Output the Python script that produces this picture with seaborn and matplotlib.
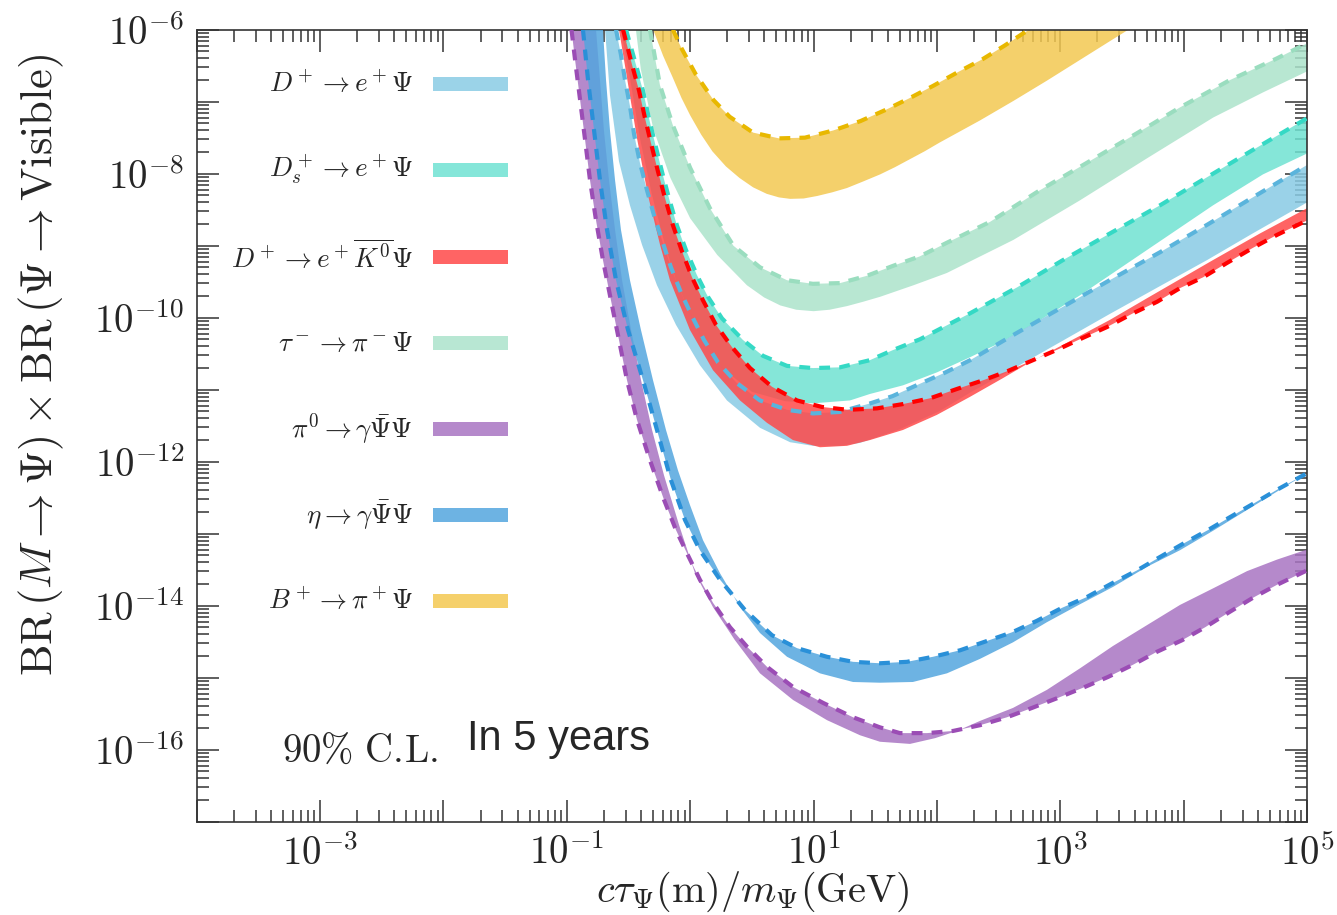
import numpy as np
import matplotlib as mpl
mpl.use('Agg')

import matplotlib.pyplot as plt
from matplotlib.patches import Rectangle
from matplotlib.ticker import LogLocator, FuncFormatter, NullFormatter
import seaborn as sns

# all curve values are log10 numbers
# each band: "dash" = dashed boundary, "edge" = the other boundary

# B+ -> pi+ Psi (yellow)
yel_dash_x = [-0.14, -0.07, 0.045, 0.19, 0.32, 0.51, 0.72, 0.93, 1.16, 1.38, 1.59, 1.78, 1.97, 2.17, 2.37, 2.55, 2.70, 2.75]
yel_dash_y = [-6.0, -6.26, -6.62, -6.98, -7.21, -7.43, -7.51, -7.50, -7.40, -7.27, -7.11, -6.95, -6.78, -6.59, -6.41, -6.22, -6.05, -6.0]
yel_edge_x = [-0.30, -0.22, -0.14, -0.07, 0.0, 0.09, 0.18, 0.29, 0.40, 0.51, 0.62, 0.72, 0.81, 0.92, 1.03, 1.15, 1.27, 1.40, 1.54, 1.66, 1.78, 1.90, 2.02, 2.35, 2.62, 2.89, 3.16, 3.43, 3.59]
yel_edge_y = [-6.0, -6.36, -6.67, -6.95, -7.19, -7.46, -7.69, -7.90, -8.06, -8.19, -8.28, -8.33, -8.35, -8.345, -8.31, -8.26, -8.20, -8.11, -8.01, -7.91, -7.80, -7.69, -7.57, -7.26, -6.99, -6.71, -6.42, -6.13, -5.96]

# tau- -> pi- Psi (pale green)
tau_dash_x = [-0.326, -0.245, -0.14, 0.0, 0.16, 0.35, 0.565, 0.785, 0.995, 1.215, 1.43, 1.645, 1.86, 2.08, 2.43, 2.835, 3.215, 3.62, 3.97, 4.375, 4.755, 5.0]
tau_dash_y = [-6.0, -6.77, -7.33, -7.92, -8.48, -9.0, -9.30, -9.48, -9.53, -9.52, -9.42, -9.28, -9.15, -8.96, -8.67, -8.23, -7.85, -7.44, -7.08, -6.70, -6.40, -6.19]
tau_edge_x = [-0.44, -0.40, -0.30, -0.16, 0.0, 0.22, 0.46, 0.60, 0.73, 0.86, 1.0, 1.13, 1.27, 1.40, 1.54, 1.81, 2.08, 2.62, 3.16, 3.70, 4.24, 4.645, 5.0]
tau_edge_y = [-6.0, -6.55, -7.37, -8.06, -8.62, -9.13, -9.55, -9.72, -9.83, -9.89, -9.91, -9.89, -9.84, -9.78, -9.71, -9.55, -9.38, -8.92, -8.37, -7.79, -7.22, -6.87, -6.58]

# Ds+ -> e+ Psi (turquoise)
ds_dash_x = [-0.52, -0.439, -0.382, -0.334, -0.285, -0.229, -0.172, -0.107, -0.034, 0.055, 0.144, 0.258, 0.428, 0.59, 0.785, 0.995, 1.214, 1.457, 1.644, 1.863, 2.268, 2.649, 3.022, 3.403, 3.808, 4.189, 4.562, 5.0]
ds_dash_y = [-6.0, -6.49, -6.85, -7.23, -7.58, -7.97, -8.34, -8.72, -9.06, -9.41, -9.71, -10.01, -10.31, -10.53, -10.67, -10.70, -10.69, -10.59, -10.45, -10.30, -9.94, -9.58, -9.20, -8.83, -8.44, -8.05, -7.67, -7.23]
ds_edge_x = [-0.561, -0.488, -0.407, -0.309, -0.204, -0.115, 0.055, 0.258, 0.501, 0.769, 0.995, 1.295, 1.457, 1.725, 2.0, 2.268, 2.535, 2.811, 3.16, 3.703, 4.238, 4.643, 5.0]
ds_edge_y = [-6.0, -6.67, -7.51, -8.30, -8.99, -9.48, -10.17, -10.70, -11.03, -11.16, -11.19, -11.15, -11.06, -10.94, -10.76, -10.55, -10.33, -10.06, -9.69, -9.06, -8.44, -8.01, -7.72]

# D+ -> e+ Psi (light blue)
dpe_dash_x = [-0.601, -0.561, -0.528, -0.488, -0.455, -0.407, -0.35, -0.293, -0.229, -0.156, -0.075, 0.015, 0.112, 0.225, 0.379, 0.566, 0.785, 0.995, 1.21, 1.46, 1.64, 1.86, 2.07, 2.27, 2.65, 3.02, 3.40, 3.81, 4.19, 4.56, 5.0]
dpe_dash_y = [-6.0, -6.35, -6.70, -7.06, -7.45, -7.85, -8.23, -8.58, -8.92, -9.30, -9.65, -9.98, -10.31, -10.62, -10.91, -11.15, -11.28, -11.33, -11.31, -11.19, -11.09, -10.92, -10.76, -10.59, -10.21, -9.85, -9.48, -9.09, -8.71, -8.33, -7.88]
dpe_edge_x = [-0.69, -0.65, -0.577, -0.488, -0.39, -0.269, -0.115, 0.079, 0.298, 0.566, 0.81, 0.995, 1.214, 1.376, 1.70, 2.02, 2.27, 2.65, 3.02, 3.40, 3.81, 4.19, 4.56, 5.0]
dpe_edge_y = [-6.0, -6.91, -7.83, -8.44, -8.99, -9.55, -10.10, -10.66, -11.15, -11.53, -11.73, -11.78, -11.78, -11.74, -11.55, -11.30, -11.04, -10.68, -10.32, -9.95, -9.56, -9.20, -8.83, -8.40]

# D+ -> e+ K0bar Psi (red)
dpk_dash_x = [-0.544, -0.471, -0.414, -0.366, -0.317, -0.261, -0.204, -0.139, -0.066, 0.015, 0.104, 0.209, 0.339, 0.485, 0.663, 0.866, 1.068, 1.279, 1.514, 1.725, 1.944, 2.163, 2.374, 2.576, 2.779, 2.982, 3.184, 3.379, 3.589, 3.784, 3.97, 4.157, 4.351, 4.562, 4.757, 5.0]
dpk_dash_y = [-6.0, -6.49, -6.85, -7.23, -7.58, -7.97, -8.34, -8.72, -9.08, -9.44, -9.76, -10.10, -10.41, -10.70, -10.96, -11.15, -11.24, -11.28, -11.26, -11.20, -11.12, -10.99, -10.87, -10.74, -10.59, -10.44, -10.28, -10.13, -9.94, -9.78, -9.59, -9.44, -9.24, -9.03, -8.85, -8.65]
dpk_edge_x = [-0.577, -0.512, -0.431, -0.342, -0.244, -0.164, -0.002, 0.185, 0.404, 0.622, 0.833, 1.052, 1.271, 1.457, 1.725, 2.0, 2.268, 2.535, 2.754, 2.941, 3.184, 3.403, 3.703, 4.238, 4.619, 5.0]
dpk_edge_y = [-6.0, -6.67, -7.51, -8.30, -8.99, -9.48, -10.17, -10.73, -11.15, -11.46, -11.70, -11.80, -11.78, -11.70, -11.56, -11.35, -11.10, -10.84, -10.62, -10.45, -10.23, -10.03, -9.73, -9.20, -8.83, -8.48]

# pi0 -> gamma Psibar Psi (purple)
pi0_dash_x = [-0.962, -0.933, -0.892, -0.852, -0.812, -0.763, -0.707, -0.642, -0.577, -0.512, -0.431, -0.326, -0.212, -0.115, -0.018, 0.079, 0.185, 0.323, 0.461, 0.623, 0.834, 1.077, 1.32, 1.538, 1.70, 1.92, 2.131, 2.35, 2.568, 2.771, 2.982, 3.184, 3.387, 3.59, 3.784, 3.987, 4.174, 4.36, 4.562, 4.757, 5.0]
pi0_dash_y = [-6.0, -6.42, -6.98, -7.53, -8.09, -8.65, -9.20, -9.76, -10.31, -10.87, -11.42, -11.98, -12.53, -12.95, -13.30, -13.64, -13.96, -14.30, -14.57, -14.85, -15.13, -15.35, -15.55, -15.69, -15.77, -15.77, -15.74, -15.66, -15.55, -15.42, -15.28, -15.14, -14.99, -14.82, -14.64, -14.48, -14.30, -14.10, -13.89, -13.71, -13.51]
pi0_edge_x = [-0.763, -0.731, -0.699, -0.658, -0.609, -0.552, -0.479, -0.398, -0.309, -0.212, -0.09, 0.039, 0.185, 0.363, 0.566, 0.834, 1.109, 1.377, 1.538, 1.782, 1.985, 2.163, 2.35, 2.617, 2.891, 3.16, 3.427, 3.703, 3.97, 4.238, 4.514, 4.757, 5.0]
pi0_edge_y = [-6.0, -6.70, -7.40, -8.09, -8.78, -9.48, -10.17, -10.87, -11.56, -12.19, -12.88, -13.55, -14.02, -14.48, -14.94, -15.31, -15.59, -15.80, -15.89, -15.92, -15.84, -15.74, -15.60, -15.42, -15.17, -14.87, -14.56, -14.27, -13.99, -13.76, -13.52, -13.36, -13.22]

# eta -> gamma Psibar Psi (blue)
eta_dash_x = [-0.869, -0.828, -0.779, -0.731, -0.674, -0.601, -0.504, -0.382, -0.269, -0.155, -0.042, 0.079, 0.242, 0.444, 0.663, 0.866, 1.109, 1.32, 1.538, 1.757, 1.968, 2.187, 2.406, 2.609, 2.811, 3.014, 3.216, 3.419, 3.622, 3.792, 3.995, 4.197, 4.376, 4.578, 4.757, 5.0]
eta_dash_y = [-6.0, -6.70, -7.40, -8.09, -8.78, -9.48, -10.17, -10.87, -11.56, -12.26, -12.81, -13.23, -13.64, -14.06, -14.41, -14.59, -14.71, -14.78, -14.80, -14.78, -14.71, -14.62, -14.49, -14.37, -14.21, -14.03, -13.88, -13.69, -13.51, -13.34, -13.14, -12.95, -12.77, -12.57, -12.39, -12.16]
eta_edge_x = [-0.707, -0.682, -0.65, -0.609, -0.561, -0.488, -0.399, -0.301, -0.196, -0.099, -0.002, 0.104, 0.242, 0.404, 0.566, 0.785, 1.052, 1.32, 1.538, 1.805, 2.081, 2.348, 2.616, 2.891, 3.16, 3.427, 3.703, 3.97, 4.238, 4.514, 5.0]
eta_edge_y = [-6.0, -6.70, -7.40, -8.09, -8.78, -9.48, -10.17, -10.87, -11.56, -12.12, -12.60, -13.09, -13.55, -14.02, -14.38, -14.71, -14.94, -15.06, -15.07, -15.06, -14.94, -14.74, -14.51, -14.23, -13.98, -13.74, -13.46, -13.23, -12.96, -12.67, -12.16]

labels = [r'$D^+\rightarrow e^+\Psi$', r'$D_s^+\rightarrow e^+\Psi$',
          r'$D^+\rightarrow e^+\overline{K^0}\Psi$', r'$\tau^-\rightarrow\pi^-\Psi$',
          r'$\pi^0\rightarrow\gamma\bar{\Psi}\Psi$', r'$\eta\rightarrow\gamma\bar{\Psi}\Psi$',
          r'$B^+\rightarrow\pi^+\Psi$']
swatch_colors = ['#9BD3E8', '#85E6D9', '#FF6464', '#B8E7D3', '#B589CB', '#6DB3E3', '#F5D06B']
fill_colors = ['#89CBE4', '#70E2D2', '#FF4949', '#ACE3CB', '#A874C2', '#53A6DE', '#F3C851']
dash_colors = ['#5AB4DC', '#35D9C5', '#FF0000', '#9ADDBF', '#9B4DB5', '#2A90D8', '#E8B800']

bands = [
    (dpe_dash_x, dpe_dash_y, dpe_edge_x, dpe_edge_y),
    (ds_dash_x, ds_dash_y, ds_edge_x, ds_edge_y),
    (dpk_dash_x, dpk_dash_y, dpk_edge_x, dpk_edge_y),
    (tau_dash_x, tau_dash_y, tau_edge_x, tau_edge_y),
    (pi0_dash_x, pi0_dash_y, pi0_edge_x, pi0_edge_y),
    (eta_dash_x, eta_dash_y, eta_edge_x, eta_edge_y),
    (yel_dash_x, yel_dash_y, yel_edge_x, yel_edge_y),
]
# drawing order of the fills (index into bands)
fill_order = [6, 3, 1, 0, 2, 4, 5]

sns.set_style('ticks')
plt.rcParams['mathtext.fontset'] = 'cm'
plt.rcParams['font.family'] = ['DejaVu Serif']

fig = plt.figure(figsize=(13.37, 9.15), dpi=100)
ax = fig.add_axes([0.1471, 0.102, 0.8305, 0.8656])
ax.set_xscale('log')
ax.set_yscale('log')

for k, i in enumerate(fill_order):
    dx, dy, ex, ey = bands[i]
    px = 10 ** np.concatenate([dx, ex[::-1]])
    py = 10 ** np.concatenate([dy, ey[::-1]])
    ax.fill(px, py, color=fill_colors[i], alpha=0.85, lw=0, zorder=2 + k * 0.1)

for k, i in enumerate(fill_order):
    dx, dy, ex, ey = bands[i]
    sns.lineplot(x=10 ** np.array(dx), y=10 ** np.array(dy), sort=False, estimator=None,
                 color=dash_colors[i], lw=3.0, linestyle=(0, (2.6, 2.2)), legend=False,
                 ax=ax, zorder=4 + k * 0.1)

ax.set_xlim(1e-4, 1e5)
ax.set_ylim(1e-17, 1e-6)

def fmt_x(v, pos):
    e = int(round(np.log10(v)))
    return r'$10^{%d}$' % e if e % 2 != 0 else ''

def fmt_y(v, pos):
    e = int(round(np.log10(v)))
    return r'$10^{%d}$' % e if e % 2 == 0 else ''

for axis, f in ((ax.xaxis, fmt_x), (ax.yaxis, fmt_y)):
    axis.set_major_locator(LogLocator(base=10, numticks=30))
    axis.set_minor_locator(LogLocator(base=10, subs=np.arange(2, 10), numticks=30))
    axis.set_major_formatter(FuncFormatter(f))
    axis.set_minor_formatter(NullFormatter())

ax.tick_params(which='both', direction='in', top=True, right=True, color='#333333', width=1.1)
ax.tick_params(which='major', length=16, labelsize=28, pad=9)
ax.tick_params(which='minor', length=8.5)
for s in ax.spines.values():
    s.set_linewidth(1.2)
    s.set_color('#333333')

ax.set_xlabel(r'$c\tau_\Psi(\mathrm{m})/m_\Psi(\mathrm{GeV})$', fontsize=29)
ax.xaxis.set_label_coords(0.501, -0.061)
ax.set_ylabel(r'$\mathrm{BR}\,(M\rightarrow\Psi)\times\mathrm{BR}\,(\Psi\rightarrow\mathrm{Visible})$', fontsize=32)
ax.yaxis.set_label_coords(-0.1175, 0.5765)

# legend drawn by hand: label on the left, colour bar on the right
row_y = [0.9312, 0.8226, 0.7128, 0.6043, 0.4957, 0.3872, 0.2786]
for lab, c, yy in zip(labels, swatch_colors, row_y):
    ax.add_patch(Rectangle((0.2128, yy - 0.0089), 0.0677, 0.0178, transform=ax.transAxes,
                           color=c, lw=0, zorder=6))
    ax.text(0.1948, yy, lab, transform=ax.transAxes, ha='right', va='center', fontsize=19.5, zorder=6)

ax.text(0.0768, 0.0754, r'$90\%\ \mathrm{C.\!L.}$', transform=ax.transAxes, fontsize=28, va='baseline')
ax.text(0.2435, 0.0906, 'In 5 years', transform=ax.transAxes, fontsize=30,
        family=['Liberation Sans', 'DejaVu Sans'], va='baseline')

fig.savefig('out.png', dpi=100)
